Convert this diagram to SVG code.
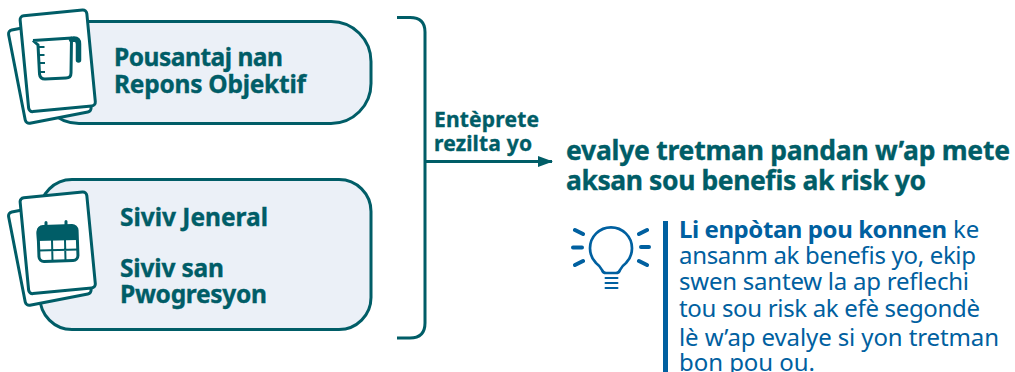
<svg xmlns="http://www.w3.org/2000/svg" width="1015" height="372" viewBox="0 0 1015 372">
<style>
.t{font-family:"Noto Sans","Open Sans",sans-serif}
.h{font-weight:700;fill:#005d67;stroke:#005d67;stroke-width:.35}
.b{font-size:24px;fill:#0060a0}
.box{fill:#ebf0f7;stroke:#005d67;stroke-width:3}
.pg{fill:#fff;stroke:#005d67;stroke-width:3;stroke-linejoin:round}
.ln{fill:none;stroke:#005d67;stroke-width:3}
.bl{fill:none;stroke:#0060a0;stroke-linecap:round}
.ic{fill:none;stroke:#005d67;stroke-width:3}
</style>
<defs><marker id="a" markerUnits="userSpaceOnUse" markerWidth="15" markerHeight="12" refX="14" refY="5.500" orient="auto"><path d="M0 0L15 5.500L0 11Z" fill="#005d67"/></marker></defs>
<g id="node-response">
<rect class="box" x="39" y="21.500" width="332" height="102" rx="40"/>
<rect class="pg" x="26" y="29" width="67" height="95" rx="4" transform="rotate(-11 26 124)"/>
<rect class="pg" x="29" y="15.600" width="67" height="96.400" rx="4" transform="rotate(-5.500 29 112)"/>
<path class="ic" d="M33 40.500L72 38M33 40.500L38 45L39.500 74Q40 79 45 79L66 78Q71 78 71 73L71.500 39"/>
<path d="M71.500 39.500L74 39Q78.500 39 78.500 44L78.500 60" fill="none" stroke="#005d67" stroke-width="5.500" stroke-linecap="round"/>
<path d="M39 47H44.500M39 55H44.500M40 63H45M40 72H45" stroke="#005d67" stroke-width="2"/>
<text class="t h" font-size="24.500" x="114" y="65.500" textLength="169">Pousantaj nan</text>
<text class="t h" font-size="24.500" x="114" y="93" textLength="192">Repons Objektif</text>
</g>
<g id="node-levels">
<rect class="box" x="40" y="179.500" width="331" height="150" rx="32"/>
<rect class="pg" x="26" y="211" width="67" height="95" rx="4" transform="rotate(-11 26 306)"/>
<rect class="pg" x="29" y="197.600" width="67" height="96.400" rx="4" transform="rotate(-5.500 29 294)"/>
<rect class="ic" x="38.500" y="226" width="39" height="35" rx="5" transform="rotate(-2 57 243)"/>
<path d="M37 241L36.500 233Q36.500 226.500 43 226L71 225Q77 225 77.300 231L77.600 240Z" fill="#005d67"/>
<path d="M46 222.500L46 227M66 221.500L66 226" stroke="#005d67" stroke-width="3" stroke-linecap="round"/>
<path d="M39 250.500L78 249.500M52 240L52.500 261M65 240L65.500 260" stroke="#005d67" stroke-width="2"/>
<text class="t h" font-size="24.500" x="120" y="225.500" textLength="148">Siviv Jeneral</text>
<text class="t h" font-size="24.500" x="120" y="277" textLength="104">Siviv san</text>
<text class="t h" font-size="24.500" x="120" y="303" textLength="147">Pwogresyon</text>
</g>
<g id="connectors">
<path class="ln" d="M397 17.500H410Q425 17.500 425 32V323Q425 338 410 338H397"/>
<path class="ln" d="M425 161.500H552" marker-end="url(#a)"/>
</g>
<g id="label-interpret">
<text class="t h" font-size="21" x="434" y="126.500" textLength="105">Entèprete</text>
<text class="t h" font-size="21" x="434" y="151" textLength="98">rezilta yo</text>
</g>
<g id="node-evaluate">
<text class="t h" font-size="26.500" x="566" y="160" textLength="444">evalye tretman pandan w’ap mete</text>
<text class="t h" font-size="26.500" x="566" y="190" textLength="360">aksan sou benefis ak risk yo</text>
</g>
<g id="node-tip">
<path d="M596 263A21 21 0 1 1 626 263Q622 266 620 270Q619 273 616 273L606 273Q603 273 602 270Q600 266 596 263Z" fill="none" stroke="#0060a0" stroke-width="2.700"/>
<path class="bl" stroke-width="2" d="M605.500 278H617.500M605.500 283H617.500M605.500 288H617.500"/>
<path class="bl" stroke-width="4" d="M575 230L583 234M573 247.500H582M575 265L583 261M647 230L639 234M649 247H641M647 265L639 261"/>
<rect x="663" y="221" width="5" height="151" fill="#0060a0"/>
<text class="t b" x="679" y="238" font-weight="700" textLength="268">Li enpòtan pou konnen</text>
<text class="t b" x="953" y="238">ke</text>
<text class="t b" x="679" y="264" textLength="297">ansanm ak benefis yo, ekip</text>
<text class="t b" x="679" y="290" textLength="290">swen santew la ap reflechi</text>
<text class="t b" x="679" y="317" textLength="301">tou sou risk ak efè segondè</text>
<text class="t b" x="679" y="345.500" textLength="320">lè w’ap evalye si yon tretman</text>
<text class="t b" x="679" y="371" textLength="136">bon pou ou.</text>
</g>
</svg>
